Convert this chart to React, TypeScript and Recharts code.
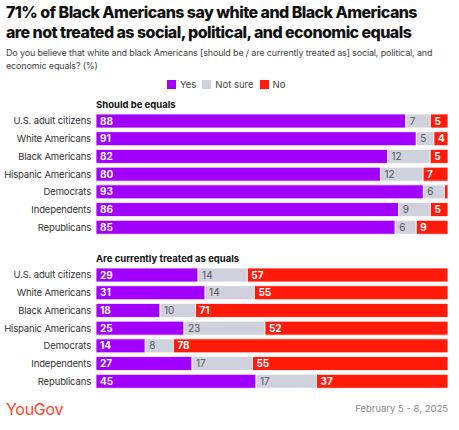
import { Bar, BarChart, LabelList, XAxis, YAxis } from "recharts";

const groups = [
  "U.S. adult citizens",
  "White Americans",
  "Black Americans",
  "Hispanic Americans",
  "Democrats",
  "Independents",
  "Republicans",
];
// "Should be equals"
const shouldYes = [88, 91, 82, 80, 93, 86, 85];
const shouldNotSure = [7, 5, 12, 12, 6, 9, 6];
const shouldNo = [5, 4, 5, 7, 1, 5, 9];
// "Are currently treated as equals"
const currentYes = [29, 31, 18, 25, 14, 27, 45];
const currentNotSure = [14, 14, 10, 23, 8, 17, 17];
const currentNo = [57, 55, 71, 52, 78, 55, 37];

const YES = "#a100ff";
const NOT_SURE = "#cfd2dd";
const NO = "#ff1a0a";
const FONT = "Inter, 'Noto Sans', sans-serif";

function rows(yes: number[], notSure: number[], no: number[]) {
  return groups.map((name, i) => ({ name, yes: yes[i], notSure: notSure[i], no: no[i] }));
}

const hideSmall = (v: unknown) => (Number(v) < 2 ? "" : String(v));

// plain tick so long group names never wrap
function GroupTick({ x, y, payload }: { x?: number; y?: number; payload?: { value: string } }) {
  return (
    <text
      x={(x ?? 0) - 3}
      y={y}
      textAnchor="end"
      dominantBaseline="central"
      fontSize={9.5}
      letterSpacing={-0.15}
      fill="#333"
    >
      {payload?.value}
    </text>
  );
}

function Section({ title, top, data }: { title: string; top: number; data: ReturnType<typeof rows> }) {
  return (
    <>
      <div
        style={{
          position: "absolute",
          left: 96,
          top: top - 13,
          fontSize: 9.5,
          fontWeight: 700,
          color: "#111",
        }}
      >
        {title}
      </div>
      <div style={{ position: "absolute", left: 0, top }}>
        <BarChart
          width={459}
          height={124}
          data={data}
          layout="vertical"
          stackOffset="expand"
          barSize={14}
          margin={{ top: 0, right: 11, bottom: 0, left: 0 }}
        >
          <XAxis type="number" hide domain={[0, 1]} />
          <YAxis
            type="category"
            dataKey="name"
            width={96}
            interval={0}
            axisLine={false}
            tickLine={false}
            tickSize={0}
            tick={<GroupTick />}
          />
          <Bar dataKey="yes" stackId="a" fill={YES} stroke="#fff" strokeWidth={0.8} isAnimationActive={false}>
            <LabelList dataKey="yes" position="insideLeft" offset={4} fill="#fff" fontSize={10} fontWeight={700} formatter={hideSmall} />
          </Bar>
          <Bar dataKey="notSure" stackId="a" fill={NOT_SURE} stroke="#fff" strokeWidth={0.8} isAnimationActive={false}>
            <LabelList dataKey="notSure" position="insideLeft" offset={4} fill="#555" fontSize={10} formatter={hideSmall} />
          </Bar>
          <Bar dataKey="no" stackId="a" fill={NO} stroke="#fff" strokeWidth={0.8} isAnimationActive={false}>
            <LabelList dataKey="no" position="insideLeft" offset={4} fill="#fff" fontSize={10} fontWeight={700} formatter={hideSmall} />
          </Bar>
        </BarChart>
      </div>
    </>
  );
}

function LegendItem({ color, label }: { color: string; label: string }) {
  return (
    <span style={{ display: "inline-flex", alignItems: "center", marginRight: 6 }}>
      <span style={{ width: 9, height: 9, background: color, display: "inline-block", marginRight: 4 }} />
      {label}
    </span>
  );
}

const titleLine = {
  position: "absolute" as const,
  left: 6,
  fontSize: 16,
  fontWeight: 800,
  lineHeight: "17px",
  color: "#111",
  letterSpacing: -0.55,
  whiteSpace: "nowrap" as const,
};

export default function App() {
  return (
    <div style={{ position: "relative", width: 459, height: 430, fontFamily: FONT, background: "#fff", overflow: "hidden" }}>
      <style>{"body{margin:0}"}</style>
      <div style={{ ...titleLine, top: 4 }}>71% of Black Americans say white and Black Americans</div>
      <div style={{ ...titleLine, top: 24 }}>are not treated as social, political, and economic equals</div>
      <div
        style={{
          position: "absolute",
          left: 6,
          top: 46,
          fontSize: 9,
          lineHeight: "13px",
          color: "#444",
          letterSpacing: -0.16,
          whiteSpace: "nowrap",
        }}
      >
        Do you believe that white and black Americans [should be / are currently treated as] social, political, and
        <br />
        economic equals? (%)
      </div>
      <div
        style={{
          position: "absolute",
          left: 167,
          top: 79,
          fontSize: 9.5,
          color: "#444",
          display: "flex",
        }}
      >
        <LegendItem color={YES} label="Yes" />
        <LegendItem color={NOT_SURE} label="Not sure" />
        <LegendItem color={NO} label="No" />
      </div>
      <Section title="Should be equals" top={112} data={rows(shouldYes, shouldNotSure, shouldNo)} />
      <Section title="Are currently treated as equals" top={266} data={rows(currentYes, currentNotSure, currentNo)} />
      <div style={{ position: "absolute", left: 6, top: 399, fontSize: 16, color: "#ff412c", letterSpacing: -0.3 }}>YouGov</div>
      <div style={{ position: "absolute", right: 11, top: 403, fontSize: 9.5, color: "#888" }}>February 5 - 8, 2025</div>
    </div>
  );
}
